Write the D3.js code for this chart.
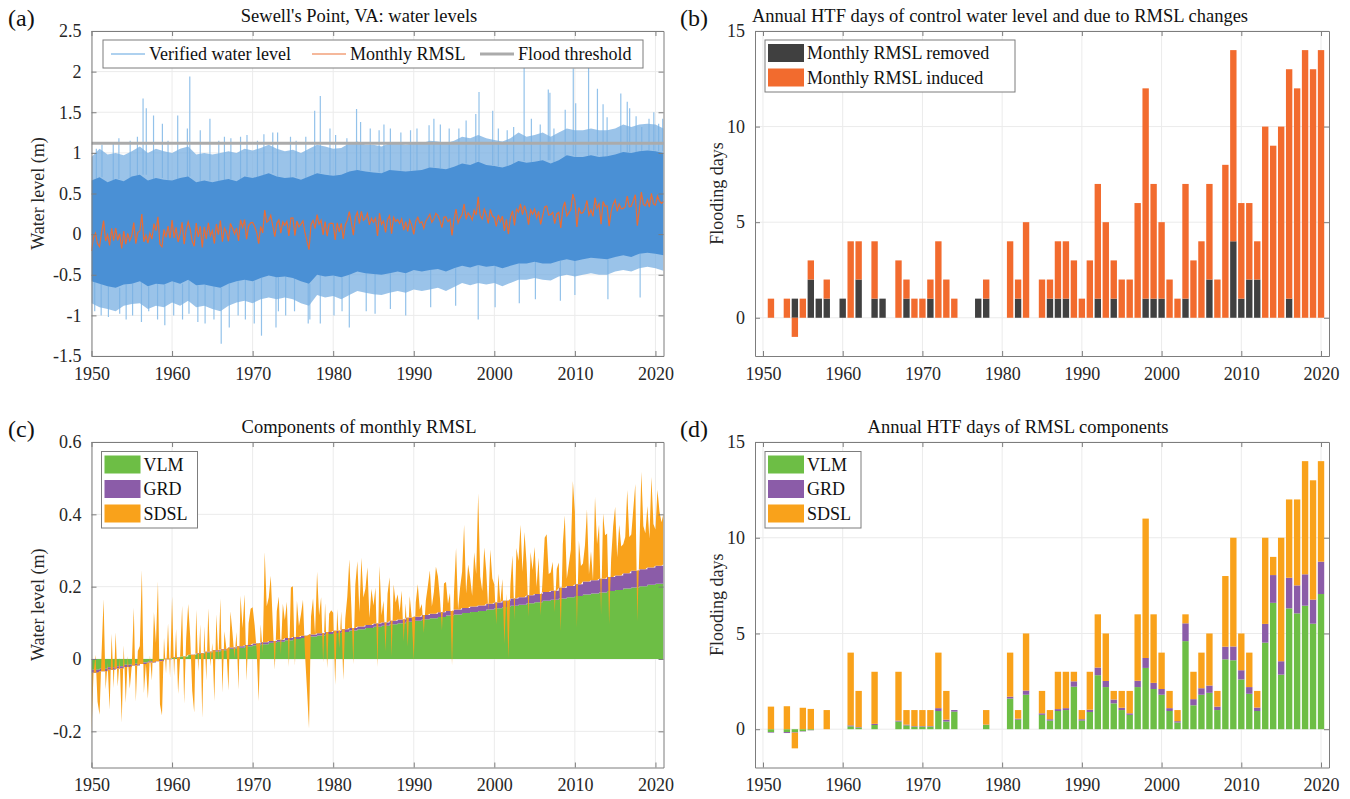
<!DOCTYPE html>
<html>
<head>
<meta charset="utf-8">
<script src="https://cdn.jsdelivr.net/npm/d3@7"></script>
<style>
  body { margin: 0; background: #fff; }
  svg text { font-family: "Liberation Serif", "Times New Roman", serif; }
</style>
</head>
<body>
<svg id="fig" width="1350" height="799"></svg>
<script>
// ---------- data ----------
// yearly series (1950..2021) for panels (a) and (c)
const years = d3.range(1950, 2022);

// vertical land motion and GRD components of monthly RMSL (m)
const vlm = [-0.030, -0.027, -0.023, -0.020, -0.016, -0.013, -0.010, -0.006, -0.003, 0.001,
  0.004, 0.007, 0.011, 0.014, 0.018, 0.021, 0.024, 0.028, 0.031, 0.035,
  0.038, 0.041, 0.045, 0.048, 0.052, 0.055, 0.058, 0.062, 0.065, 0.069,
  0.072, 0.075, 0.079, 0.082, 0.086, 0.089, 0.092, 0.096, 0.099, 0.103,
  0.106, 0.110, 0.113, 0.116, 0.120, 0.123, 0.127, 0.130, 0.133, 0.137,
  0.140, 0.144, 0.147, 0.150, 0.154, 0.157, 0.161, 0.164, 0.167, 0.171,
  0.174, 0.178, 0.181, 0.184, 0.188, 0.191, 0.195, 0.198, 0.201, 0.205,
  0.208, 0.211];
const grd = [-0.008, -0.007, -0.007, -0.006, -0.006, -0.005, -0.004, -0.004, -0.003, -0.002,
  -0.001, 0.000, 0.001, 0.002, 0.002, 0.003, 0.003, 0.004, 0.004, 0.004,
  0.005, 0.005, 0.005, 0.005, 0.006, 0.006, 0.006, 0.006, 0.006, 0.006,
  0.006, 0.007, 0.007, 0.008, 0.008, 0.009, 0.009, 0.010, 0.010, 0.011,
  0.011, 0.012, 0.012, 0.013, 0.013, 0.014, 0.014, 0.015, 0.015, 0.016,
  0.016, 0.017, 0.020, 0.021, 0.022, 0.023, 0.024, 0.025, 0.030, 0.031,
  0.033, 0.036, 0.037, 0.038, 0.039, 0.040, 0.042, 0.046, 0.047, 0.048,
  0.050, 0.051];

// sterodynamic sea level, four values per year (m)
const sdsl = [
  [-0.17, 0.00, 0.05, -0.08], [-0.12, 0.05, 0.20, -0.05], [0.02, -0.11, 0.10, -0.05], [0.10, -0.05, 0.03, -0.15], [0.06, -0.10, 0.03, -0.06],
  [0.00, 0.16, -0.10, 0.04], [0.05, 0.26, -0.08, 0.00], [-0.10, 0.02, -0.05, 0.14], [0.05, 0.22, -0.12, -0.15], [0.06, -0.04, 0.10, -0.05],
  [0.17, -0.05, 0.08, -0.10], [0.00, 0.14, -0.13, 0.05], [0.14, 0.05, -0.10, -0.16], [0.12, -0.05, 0.08, -0.18], [0.07, -0.08, 0.12, -0.04],
  [0.02, -0.14, 0.10, -0.03], [0.14, -0.12, 0.05, 0.00], [-0.12, 0.10, 0.04, -0.03], [0.04, -0.12, 0.14, 0.05], [0.14, -0.10, 0.06, 0.10],
  [0.10, 0.05, -0.02, -0.16], [0.05, -0.03, 0.25, 0.10], [0.12, 0.18, 0.05, -0.08], [0.08, 0.12, -0.04, 0.10], [0.05, 0.10, -0.08, 0.14],
  [0.14, -0.08, 0.10, 0.03], [0.06, 0.10, -0.05, -0.15], [-0.26, 0.05, 0.10, 0.00], [0.17, 0.05, 0.10, -0.08], [0.08, -0.10, 0.05, 0.06],
  [0.05, -0.15, 0.06, -0.05], [0.05, -0.14, 0.03, 0.09], [0.19, 0.06, -0.10, 0.12], [0.18, 0.04, 0.19, 0.08], [0.10, 0.16, 0.02, 0.10],
  [0.05, 0.10, -0.12, 0.16], [0.02, 0.06, -0.08, 0.08], [0.12, -0.10, 0.10, 0.05], [0.07, 0.02, 0.08, -0.06], [0.04, -0.08, 0.06, 0.00],
  [-0.12, 0.04, 0.09, 0.02], [0.03, -0.05, 0.04, 0.08], [0.12, 0.02, 0.06, 0.13], [0.10, 0.04, -0.05, 0.08], [0.08, 0.02, 0.05, -0.15],
  [0.05, 0.17, 0.00, 0.06], [0.10, 0.23, 0.04, 0.12], [0.08, 0.03, 0.15, 0.09], [0.31, 0.08, 0.04, 0.16], [0.09, -0.02, 0.15, 0.07],
  [0.05, -0.06, 0.08, 0.00], [0.06, -0.12, 0.02, -0.16], [0.04, 0.12, -0.06, 0.14], [0.10, 0.20, 0.07, 0.18], [0.09, -0.06, 0.12, 0.07],
  [0.13, 0.02, 0.10, -0.06], [0.04, 0.15, 0.16, 0.05], [0.05, 0.08, -0.06, 0.06], [0.07, -0.12, 0.12, 0.20], [0.02, 0.06, 0.10, 0.29],
  [0.20, -0.12, 0.12, 0.05], [0.05, 0.10, 0.20, 0.02], [0.08, 0.00, 0.23, 0.10], [0.15, -0.10, 0.18, 0.12], [0.12, -0.13, 0.05, 0.14],
  [0.19, 0.05, 0.14, 0.08], [0.08, 0.10, 0.23, 0.10], [0.10, 0.17, 0.24, -0.14], [0.05, 0.27, 0.12, 0.10], [0.17, 0.08, 0.25, 0.12],
  [0.10, 0.21, 0.15, 0.12], [0.14]
];

// verified water level envelope, yearly (m)
const coreHi = [0.66, 0.70, 0.64, 0.68, 0.65, 0.71, 0.73, 0.66, 0.69, 0.67,
  0.66, 0.69, 0.71, 0.64, 0.66, 0.64, 0.66, 0.68, 0.65, 0.71,
  0.69, 0.72, 0.75, 0.71, 0.69, 0.70, 0.67, 0.71, 0.75, 0.73,
  0.72, 0.73, 0.77, 0.79, 0.77, 0.76, 0.75, 0.79, 0.78, 0.77,
  0.78, 0.79, 0.82, 0.81, 0.80, 0.83, 0.87, 0.85, 0.89, 0.85,
  0.84, 0.82, 0.85, 0.90, 0.88, 0.89, 0.91, 0.87, 0.91, 0.97,
  0.95, 0.95, 0.97, 0.95, 0.96, 0.98, 1.01, 1.00, 1.02, 1.03,
  1.02, 1.00];
const coreLo = [-0.58, -0.61, -0.64, -0.66, -0.62, -0.61, -0.58, -0.64, -0.61, -0.62,
  -0.58, -0.61, -0.56, -0.63, -0.62, -0.64, -0.66, -0.61, -0.58, -0.56,
  -0.58, -0.54, -0.51, -0.53, -0.52, -0.54, -0.58, -0.61, -0.50, -0.52,
  -0.51, -0.53, -0.50, -0.46, -0.48, -0.49, -0.50, -0.48, -0.46, -0.48,
  -0.44, -0.46, -0.44, -0.43, -0.46, -0.42, -0.39, -0.41, -0.38, -0.40,
  -0.39, -0.42, -0.39, -0.36, -0.36, -0.34, -0.36, -0.36, -0.33, -0.31,
  -0.33, -0.31, -0.29, -0.30, -0.31, -0.28, -0.26, -0.28, -0.24, -0.23,
  -0.24, -0.26];
const envHi = [0.95, 1.05, 0.98, 1.00, 0.97, 1.02, 1.08, 1.00, 1.05, 1.02,
  1.00, 1.05, 1.08, 0.98, 1.00, 0.98, 1.00, 1.02, 1.00, 1.05,
  1.03, 1.06, 1.10, 1.05, 1.02, 1.04, 1.00, 1.05, 1.10, 1.08,
  1.05, 1.06, 1.12, 1.14, 1.10, 1.10, 1.08, 1.12, 1.12, 1.10,
  1.12, 1.12, 1.15, 1.14, 1.12, 1.15, 1.20, 1.18, 1.22, 1.18,
  1.16, 1.14, 1.18, 1.25, 1.20, 1.22, 1.25, 1.20, 1.25, 1.30,
  1.28, 1.28, 1.30, 1.28, 1.28, 1.30, 1.35, 1.32, 1.35, 1.36,
  1.35, 1.30];
const envLo = [-0.85, -0.90, -0.92, -0.95, -0.88, -0.86, -0.85, -0.92, -0.88, -0.90,
  -0.84, -0.88, -0.82, -0.90, -0.88, -0.92, -0.95, -0.88, -0.84, -0.82,
  -0.85, -0.80, -0.78, -0.80, -0.78, -0.80, -0.85, -0.88, -0.75, -0.78,
  -0.76, -0.80, -0.75, -0.70, -0.72, -0.74, -0.75, -0.72, -0.70, -0.72,
  -0.68, -0.70, -0.68, -0.66, -0.70, -0.65, -0.60, -0.63, -0.60, -0.62,
  -0.60, -0.64, -0.60, -0.56, -0.56, -0.54, -0.56, -0.57, -0.52, -0.50,
  -0.52, -0.50, -0.48, -0.50, -0.50, -0.46, -0.44, -0.46, -0.42, -0.40,
  -0.42, -0.45];

// storm peaks and low-water events [decimal year, level (m)]
const highPeaks = [[1950.6, 1.05], [1951.3, 1.10], [1952.7, 1.12], [1953.4, 1.18], [1954.8, 1.15], [1955.7, 1.20],
  [1956.4, 1.67], [1956.8, 1.55], [1957.7, 1.46], [1958.8, 1.36], [1959.5, 1.15], [1960.7, 1.46], [1961.9, 1.30],
  [1962.2, 1.94], [1963.5, 1.28], [1964.7, 1.42], [1965.8, 1.15], [1966.5, 1.20], [1967.3, 1.18], [1968.5, 1.20],
  [1969.3, 1.22], [1970.6, 1.15], [1971.4, 1.23], [1972.5, 1.25], [1973.1, 1.25], [1974.7, 1.20], [1975.4, 1.15],
  [1976.6, 1.20], [1977.7, 1.52], [1978.4, 1.70], [1979.6, 1.30], [1980.3, 1.22], [1981.7, 1.18], [1982.9, 1.54],
  [1983.4, 1.38], [1984.6, 1.30], [1985.7, 1.28], [1986.3, 1.35], [1987.1, 1.30], [1988.4, 1.25], [1989.6, 1.28],
  [1990.4, 1.30], [1991.9, 1.34], [1992.5, 1.42], [1993.3, 1.35], [1994.4, 1.30], [1995.6, 1.30], [1996.5, 1.40],
  [1997.7, 1.48], [1998.1, 1.75], [1999.8, 1.52], [2000.5, 1.30], [2001.6, 1.28], [2002.4, 1.32], [2003.7, 2.06],
  [2004.6, 1.42], [2005.7, 1.35], [2006.7, 1.78], [2006.9, 1.74], [2007.4, 1.30], [2008.8, 1.53], [2009.8, 2.04],
  [2010.1, 1.61], [2011.7, 2.05], [2012.8, 1.79], [2013.5, 1.60], [2014.0, 1.44], [2015.7, 1.73], [2016.5, 1.63],
  [2016.8, 1.55], [2017.6, 1.45], [2018.3, 1.32], [2019.2, 1.42], [2019.8, 1.50], [2020.4, 1.36], [2020.9, 1.42]];
const lowPeaks = [[1950.4, -0.95], [1951.2, -1.00], [1952.1, -1.02], [1953.5, -0.98], [1954.3, -1.05], [1955.1, -1.00],
  [1956.2, -1.08], [1957.1, -0.95], [1958.2, -1.05], [1959.1, -1.12], [1960.2, -1.00], [1961.3, -1.05], [1962.1, -0.98],
  [1963.2, -1.08], [1964.1, -1.10], [1965.2, -1.05], [1966.1, -1.35], [1967.1, -1.15], [1968.2, -1.00], [1969.1, -1.05],
  [1970.2, -1.10], [1971.1, -1.25], [1972.9, -1.15], [1973.2, -0.95], [1974.1, -1.00], [1975.2, -0.95], [1976.9, -1.10],
  [1977.1, -1.05], [1978.4, -1.10], [1980.1, -1.00], [1981.1, -0.95], [1982.0, -1.15], [1984.1, -0.95], [1985.2, -0.98],
  [1987.1, -0.92], [1989.0, -1.00], [1992.1, -0.90], [1995.2, -0.88], [1998.0, -1.05], [2000.1, -0.90], [2003.1, -0.85],
  [2005.1, -0.80], [2008.2, -0.82], [2010.0, -0.75], [2014.1, -0.80], [2018.1, -0.78]];
const floodThreshold = 1.12;

// annual high tide flooding days (1951..2020)
const barYears = d3.range(1951, 2021);
const rmslRemoved = [0, 0, 0, 1, 0, 2, 1, 1, 0, 1,
  0, 2, 0, 1, 1, 0, 0, 1, 0, 0,
  1, 0, 0, 0, 0, 0, 1, 1, 0, 0,
  0, 1, 0, 0, 0, 1, 1, 1, 0, 0,
  0, 1, 0, 1, 0, 0, 0, 1, 1, 1,
  0, 0, 1, 0, 0, 2, 0, 0, 4, 1,
  2, 2, 0, 0, 0, 1, 0, 0, 0, 0];
const rmslInduced = [1, 0, 1, -1, 1, 1, 0, 1, 0, 0,
  4, 2, 0, 3, 0, 0, 3, 1, 1, 1,
  1, 4, 2, 1, 0, 0, 0, 1, 0, 0,
  4, 1, 5, 0, 2, 1, 3, 3, 3, 1,
  3, 6, 5, 2, 2, 2, 6, 11, 6, 4,
  2, 1, 6, 3, 4, 5, 2, 8, 10, 5,
  4, 2, 10, 9, 10, 12, 12, 14, 13, 14];
const vlmDays = [-0.15, 0, -0.15, -0.15, -0.10, -0.05, 0, 0, 0, 0,
  0.15, 0.08, 0, 0.22, 0, 0, 0.40, 0.20, 0.13, 0.13,
  0.13, 0.95, 0.40, 0.92, 0, 0, 0, 0.22, 0, 0,
  1.60, 0.50, 1.80, 0, 0.75, 0.45, 0.95, 1.00, 2.22, 0.45,
  0.90, 2.82, 2.20, 1.35, 1.00, 0.75, 2.20, 3.20, 2.10, 1.80,
  0.95, 0.35, 4.60, 1.25, 1.80, 1.90, 1.00, 3.65, 3.60, 2.60,
  1.85, 0.95, 4.52, 6.60, 2.85, 6.31, 6.05, 6.45, 5.51, 7.06];
const grdDays = [-0.03, 0, -0.05, -0.03, -0.02, -0.01, 0, 0, 0, 0,
  0.05, 0.03, 0, 0.06, 0, 0, 0.05, 0.04, 0.03, 0.03,
  0.03, 0.15, 0.10, 0.08, 0, 0, 0, 0.02, 0, 0,
  0.10, 0.05, 0.22, 0, 0.08, 0.07, 0.10, 0.10, 0.28, 0.07,
  0.12, 0.40, 0.32, 0.20, 0.12, 0.08, 0.33, 0.52, 0.32, 0.30,
  0.15, 0.07, 0.93, 0.32, 0.34, 0.38, 0.18, 0.66, 0.72, 0.48,
  0.35, 0.18, 0.98, 1.45, 0.70, 1.60, 1.46, 1.64, 1.26, 1.69];
const sdslDays = [1.18, 0, 1.20, -0.82, 1.12, 1.06, 0, 1.00, 0, 0,
  3.80, 1.89, 0, 2.72, 0, 0, 2.55, 0.76, 0.84, 0.84,
  0.84, 2.90, 1.50, 0.00, 0, 0, 0, 0.76, 0, 0,
  2.30, 0.45, 2.98, 0, 1.17, 0.48, 1.95, 1.90, 0.50, 0.48,
  1.98, 2.78, 2.48, 0.45, 0.88, 1.17, 3.47, 7.28, 3.58, 1.90,
  0.90, 0.58, 0.47, 1.43, 1.86, 2.72, 0.82, 3.69, 5.68, 1.92,
  1.80, 0.87, 4.50, 0.95, 6.45, 4.09, 4.49, 5.91, 6.23, 5.25];

const decadeTicks = [1950, 1960, 1970, 1980, 1990, 2000, 2010, 2020];
const levelTicksA = [-1.5, -1, -0.5, 0, 0.5, 1, 1.5, 2, 2.5];
const levelTicksC = [-0.2, 0, 0.2, 0.4, 0.6];
const dayTicks = [0, 5, 10, 15];

// ---------- colours ----------
const cBlueCore = "#4a90d5", cBlueFringe = "#78afe2", cBlueSpike = "#93c2ea";
const cRmsl = "#ea6d35", cThreshold = "#ababab";
const cRemoved = "#404040", cInduced = "#f26b2e";
const cVLM = "#6dbe45", cGRD = "#8b5ca8", cSDSL = "#f9a21b";

// ---------- layout ----------
const svg = d3.select("#fig");
const FONT = "Liberation Serif, Times New Roman, serif";
const boxA = { left: 91.5, right: 663.5, top: 31, bottom: 356 };
const boxB = { left: 755, right: 1329, top: 31, bottom: 356 };
const boxC = { left: 91.5, right: 663.5, top: 442, bottom: 767.5 };
const boxD = { left: 755, right: 1329, top: 442, bottom: 767.5 };

function addClip(id, b) {
  svg.append("clipPath").attr("id", id).append("rect")
    .attr("x", b.left).attr("y", b.top)
    .attr("width", b.right - b.left).attr("height", b.bottom - b.top);
}

function drawGrid(b, x, y, xt, yt) {
  const g = svg.append("g").attr("stroke", "#ebebeb").attr("stroke-width", 1);
  g.selectAll(".gx").data(xt).join("line").attr("class", "gx")
    .attr("x1", d => x(d)).attr("x2", d => x(d)).attr("y1", b.top).attr("y2", b.bottom);
  g.selectAll(".gy").data(yt).join("line").attr("class", "gy")
    .attr("x1", b.left).attr("x2", b.right).attr("y1", d => y(d)).attr("y2", d => y(d));
}

function drawAxes(b, x, y, xt, yt, yfmt) {
  const axes = [
    svg.append("g").attr("transform", `translate(0,${b.bottom})`)
      .call(d3.axisBottom(x).tickValues(xt).tickSizeInner(-5).tickSizeOuter(0).tickPadding(11).tickFormat(d3.format("d"))),
    svg.append("g").attr("transform", `translate(0,${b.top})`)
      .call(d3.axisTop(x).tickValues(xt).tickSizeInner(-5).tickSizeOuter(0).tickFormat("")),
    svg.append("g").attr("transform", `translate(${b.left},0)`)
      .call(d3.axisLeft(y).tickValues(yt).tickSizeInner(-5).tickSizeOuter(0).tickPadding(10).tickFormat(yfmt)),
    svg.append("g").attr("transform", `translate(${b.right},0)`)
      .call(d3.axisRight(y).tickValues(yt).tickSizeInner(-5).tickSizeOuter(0).tickFormat(""))
  ];
  axes.forEach(g => {
    g.attr("color", "#7d7d7d").attr("font-family", FONT).attr("font-size", 18);
    g.selectAll("text").attr("fill", "#262626");
  });
}

function titles(b, letter, letterX, title, titleX, ylabel, ylabelX) {
  svg.append("text").attr("x", letterX).attr("y", b.top - 5)
    .attr("font-size", 24).attr("fill", "#111").text(letter);
  svg.append("text").attr("x", titleX).attr("y", b.top - 9).attr("text-anchor", "middle")
    .attr("font-size", 18.5).attr("fill", "#111").text(title);
  svg.append("text")
    .attr("transform", `translate(${ylabelX},${(b.top + b.bottom) / 2}) rotate(-90)`)
    .attr("text-anchor", "middle").attr("dy", "0.35em")
    .attr("font-size", 18).attr("fill", "#262626").text(ylabel);
}

function patchLegend(x0, y0, w, entries) {
  const g = svg.append("g");
  g.append("rect").attr("x", x0).attr("y", y0).attr("width", w).attr("height", entries.length * 24.5 + 3)
    .attr("fill", "#fff").attr("stroke", "#7d7d7d");
  entries.forEach((e, i) => {
    const yy = y0 + 4 + i * 24.5;
    g.append("rect").attr("x", x0 + 3).attr("y", yy).attr("width", 36).attr("height", 18).attr("fill", e.color);
    g.append("text").attr("x", x0 + 42).attr("y", yy + 15).attr("font-size", 18).attr("fill", "#111").text(e.label);
  });
}

function stackBars(seriesList) {
  const pos = barYears.map(() => 0), neg = barYears.map(() => 0);
  return seriesList.map(vals => vals.map((v, i) => {
    if (v >= 0) { const s = pos[i]; pos[i] += v; return [s, pos[i]]; }
    const s = neg[i]; neg[i] += v; return [neg[i], s];
  }));
}

function drawBars(clipId, x, y, stacks, colors) {
  const g = svg.append("g").attr("clip-path", `url(#${clipId})`);
  stacks.forEach((s, k) => {
    g.selectAll(null).data(barYears.map((yr, i) => ({ yr, s: s[i] })).filter(d => d.s[1] !== d.s[0]))
      .join("rect")
      .attr("x", d => x(d.yr - 0.4)).attr("width", d => x(d.yr + 0.4) - x(d.yr - 0.4))
      .attr("y", d => y(d.s[1])).attr("height", d => y(d.s[0]) - y(d.s[1]))
      .attr("fill", colors[k]);
  });
}

// monthly RMSL points derived from the components
const base = years.map((yr, i) => vlm[i] + grd[i]);
const rmslPts = [];
sdsl.forEach((qs, i) => qs.forEach((v, q) => {
  rmslPts.push({ t: years[i] + q / 4, base: base[i], total: base[i] + v });
}));

// ---------- panel (a) ----------
const xA = d3.scaleLinear().domain([1950, 2021]).range([boxA.left, boxA.right]);
const yA = d3.scaleLinear().domain([-1.5, 2.5]).range([boxA.bottom, boxA.top]);
addClip("clipA", boxA);
drawGrid(boxA, xA, yA, decadeTicks, levelTicksA);
const gA = svg.append("g").attr("clip-path", "url(#clipA)");
const yearIdx = t => Math.min(years.length - 1, Math.floor(t) - 1950);

gA.selectAll(".hp").data(highPeaks).join("line").attr("class", "hp")
  .attr("x1", d => xA(d[0])).attr("x2", d => xA(d[0]))
  .attr("y1", d => yA(coreHi[yearIdx(d[0])])).attr("y2", d => yA(d[1]))
  .attr("stroke", cBlueSpike).attr("stroke-width", 1.2);
gA.selectAll(".lp").data(lowPeaks).join("line").attr("class", "lp")
  .attr("x1", d => xA(d[0])).attr("x2", d => xA(d[0]))
  .attr("y1", d => yA(coreLo[yearIdx(d[0])])).attr("y2", d => yA(d[1]))
  .attr("stroke", cBlueSpike).attr("stroke-width", 1.2);
gA.append("path").datum(years)
  .attr("fill", cBlueFringe).attr("fill-opacity", 0.75)
  .attr("d", d3.area().x(d => xA(d)).y0((d, i) => yA(envLo[i])).y1((d, i) => yA(envHi[i])));
gA.append("path").datum(years)
  .attr("fill", cBlueCore)
  .attr("d", d3.area().x(d => xA(d)).y0((d, i) => yA(coreLo[i])).y1((d, i) => yA(coreHi[i])));
gA.append("path").datum(rmslPts)
  .attr("fill", "none").attr("stroke", cRmsl).attr("stroke-width", 1.2)
  .attr("d", d3.line().x(d => xA(d.t)).y(d => yA(d.total)));
gA.append("line").attr("x1", boxA.left).attr("x2", boxA.right)
  .attr("y1", yA(floodThreshold)).attr("y2", yA(floodThreshold))
  .attr("stroke", cThreshold).attr("stroke-width", 3);
drawAxes(boxA, xA, yA, decadeTicks, levelTicksA, d => String(d));
titles(boxA, "(a)", 8, "Sewell's Point, VA: water levels", 359, "Water level (m)", 38);

// legend (a)
const legA = svg.append("g");
legA.append("rect").attr("x", 103).attr("y", 40).attr("width", 540).attr("height", 28)
  .attr("fill", "#fff").attr("stroke", "#7d7d7d");
[
  { x: 111, label: "Verified water level", color: cBlueSpike, w: 1.5 },
  { x: 312, label: "Monthly RMSL", color: "#f2a07a", w: 1.5 },
  { x: 480, label: "Flood threshold", color: cThreshold, w: 3 }
].forEach(e => {
  legA.append("line").attr("x1", e.x).attr("x2", e.x + 34).attr("y1", 54).attr("y2", 54)
    .attr("stroke", e.color).attr("stroke-width", e.w);
  legA.append("text").attr("x", e.x + 38).attr("y", 60).attr("font-size", 18).attr("fill", "#111").text(e.label);
});

// ---------- panel (b) ----------
const xB = d3.scaleLinear().domain([1949, 2021]).range([boxB.left, boxB.right]);
const yB = d3.scaleLinear().domain([-2, 15]).range([boxB.bottom, boxB.top]);
addClip("clipB", boxB);
drawGrid(boxB, xB, yB, decadeTicks, dayTicks);
drawBars("clipB", xB, yB, stackBars([rmslRemoved, rmslInduced]), [cRemoved, cInduced]);
drawAxes(boxB, xB, yB, decadeTicks, dayTicks, d => String(d));
titles(boxB, "(b)", 680, "Annual HTF days of control water level and due to RMSL changes", 1000, "Flooding days", 717);
patchLegend(765, 40, 250, [
  { label: "Monthly RMSL removed", color: cRemoved },
  { label: "Monthly RMSL induced", color: cInduced }
]);

// ---------- panel (c) ----------
const xC = d3.scaleLinear().domain([1950, 2021]).range([boxC.left, boxC.right]);
const yC = d3.scaleLinear().domain([-0.3, 0.6]).range([boxC.bottom, boxC.top]);
addClip("clipC", boxC);
drawGrid(boxC, xC, yC, decadeTicks, levelTicksC);
const gC = svg.append("g").attr("clip-path", "url(#clipC)");
gC.append("path").datum(years).attr("fill", cVLM)
  .attr("d", d3.area().curve(d3.curveStepAfter).x(d => xC(d)).y0(yC(0)).y1((d, i) => yC(vlm[i])));
gC.append("path").datum(years).attr("fill", cGRD)
  .attr("d", d3.area().curve(d3.curveStepAfter).x(d => xC(d))
    .y0((d, i) => yC(vlm[i])).y1((d, i) => yC(vlm[i] + grd[i])));
gC.append("path").datum(rmslPts).attr("fill", cSDSL)
  .attr("d", d3.area().x(d => xC(d.t)).y0(d => yC(d.base)).y1(d => yC(d.total)));
drawAxes(boxC, xC, yC, decadeTicks, levelTicksC, d => String(d));
titles(boxC, "(c)", 8, "Components of monthly RMSL", 359, "Water level (m)", 38);
patchLegend(101.5, 451.5, 96, [
  { label: "VLM", color: cVLM },
  { label: "GRD", color: cGRD },
  { label: "SDSL", color: cSDSL }
]);

// ---------- panel (d) ----------
const xD = d3.scaleLinear().domain([1949, 2021]).range([boxD.left, boxD.right]);
const yD = d3.scaleLinear().domain([-2, 15]).range([boxD.bottom, boxD.top]);
addClip("clipD", boxD);
drawGrid(boxD, xD, yD, decadeTicks, dayTicks);
drawBars("clipD", xD, yD, stackBars([vlmDays, grdDays, sdslDays]), [cVLM, cGRD, cSDSL]);
drawAxes(boxD, xD, yD, decadeTicks, dayTicks, d => String(d));
titles(boxD, "(d)", 680, "Annual HTF days of RMSL components", 1018, "Flooding days", 717);
patchLegend(765, 451.5, 96, [
  { label: "VLM", color: cVLM },
  { label: "GRD", color: cGRD },
  { label: "SDSL", color: cSDSL }
]);
</script>
</body>
</html>
